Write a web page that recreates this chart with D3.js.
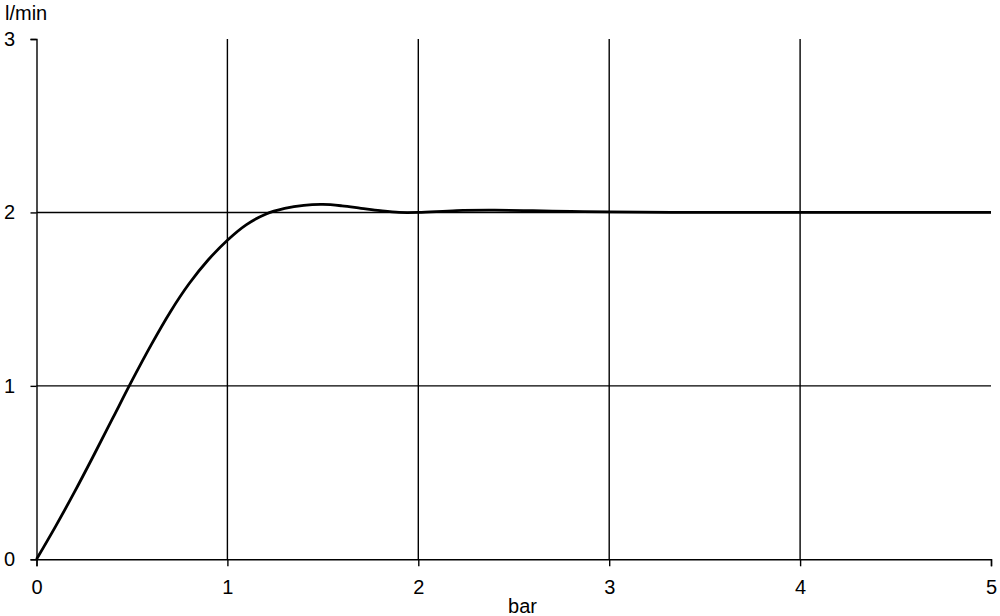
<!DOCTYPE html>
<html>
<head>
<meta charset="utf-8">
<script src="https://cdn.jsdelivr.net/npm/d3@7"></script>
<style>
  html, body { margin: 0; padding: 0; background: #fff; }
  svg { display: block; }
  text { font-family: "Liberation Sans", Arial, sans-serif; fill: #000; }
</style>
</head>
<body>
<svg id="chart" width="1000" height="616"></svg>
<script>
// Data
const pressure = [0, 0.1, 0.2, 0.3, 0.4, 0.5, 0.6, 0.7, 0.8, 0.9, 1.0, 1.1, 1.2, 1.3, 1.4, 1.5, 1.6, 1.7, 1.8, 1.9, 2.0, 2.2, 2.4, 2.6, 2.8, 3.0, 3.5, 4.0, 4.5, 5.0];
const flow     = [0, 0.19, 0.39, 0.60, 0.815, 1.03, 1.235, 1.425, 1.59, 1.727, 1.84, 1.93, 1.99, 2.023, 2.041, 2.046, 2.038, 2.024, 2.01, 2.0, 2.0, 2.011, 2.013, 2.01, 2.006, 2.003, 2.0, 2.0, 2.0, 2.0];
const xTicks = [0, 1, 2, 3, 4, 5];
const yTicks = [0, 1, 2, 3];
const xGrid = [1, 2, 3, 4];
const yGrid = [1, 2];
const xLabel = "bar";
const yLabel = "l/min";

const svg = d3.select("#chart");
const x = d3.scaleLinear().domain([0, 5]).range([36.5, 991]);
const y = d3.scaleLinear().domain([0, 3]).range([559.3, 39]);

const lw = 1.4;

// grid
svg.append("g").selectAll("line").data(xGrid).join("line")
  .attr("x1", d => x(d)).attr("x2", d => x(d))
  .attr("y1", y(3)).attr("y2", y(0))
  .attr("stroke", "#000").attr("stroke-width", lw);
svg.append("g").selectAll("line").data(yGrid).join("line")
  .attr("x1", x(0)).attr("x2", x(5))
  .attr("y1", d => y(d)).attr("y2", d => y(d))
  .attr("stroke", "#000").attr("stroke-width", lw);

// axes
const xAxis = svg.append("g").attr("transform", `translate(0,${y(0)})`)
  .call(d3.axisBottom(x).tickValues(xTicks).tickFormat(d3.format("d")).tickSize(7).tickPadding(14));
const yAxis = svg.append("g").attr("transform", `translate(${x(0)},0)`)
  .call(d3.axisLeft(y).tickValues(yTicks).tickFormat(d3.format("d")).tickSize(6).tickPadding(15));
[xAxis, yAxis].forEach(g => {
  g.selectAll("path, line").attr("stroke", "#000").attr("stroke-width", lw);
  g.selectAll("text").attr("font-size", 20).attr("font-family", "'Liberation Sans', Arial, sans-serif").attr("fill", "#000");
});
yAxis.selectAll("text").attr("x", -21.5);

// curve
const pts = pressure.map((p, i) => [p, flow[i]]);
svg.append("path").datum(pts)
  .attr("fill", "none").attr("stroke", "#000").attr("stroke-width", 2.8)
  .attr("stroke-linejoin", "round")
  .attr("d", d3.line().x(d => x(d[0])).y(d => y(d[1])).curve(d3.curveCatmullRom.alpha(0.5)));

// axis titles
svg.append("text").attr("x", 5).attr("y", 20).attr("font-size", 20).text(yLabel);
svg.append("text").attr("x", 522.5).attr("y", 613).attr("text-anchor", "middle").attr("font-size", 20).text(xLabel);
</script>
</body>
</html>
